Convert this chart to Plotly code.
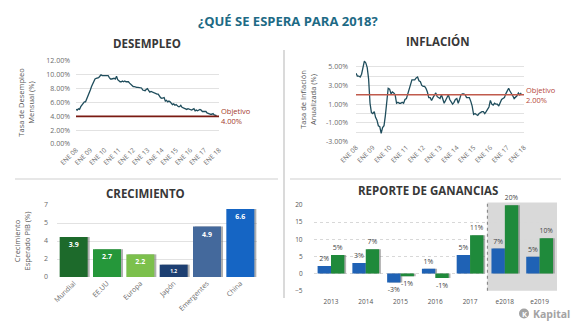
import plotly.graph_objects as go
import pandas as pd

W, H = 576, 324

# ---- Desempleo: tasa mensual (%), ene-2008 .. nov-2017
desempleo = [
    5.0, 4.9, 5.1, 5.0, 5.4, 5.6, 5.8, 6.1, 6.1, 6.5, 6.8, 7.3,
    7.8, 8.3, 8.7, 9.0, 9.4, 9.5, 9.5, 9.6, 9.8, 10.0, 9.9, 9.9,
    9.8, 9.8, 9.9, 9.9, 9.6, 9.4, 9.4, 9.5, 9.5, 9.4, 9.8, 9.3,
    9.1, 9.0, 9.0, 9.1, 9.0, 9.1, 9.0, 9.0, 9.0, 8.8, 8.6, 8.5,
    8.3, 8.3, 8.2, 8.2, 8.2, 8.2, 8.2, 8.1, 7.8, 7.8, 7.7, 7.9,
    8.0, 7.7, 7.5, 7.6, 7.5, 7.5, 7.3, 7.2, 7.2, 7.2, 6.9, 6.7,
    6.6, 6.7, 6.7, 6.2, 6.3, 6.1, 6.2, 6.1, 5.9, 5.7, 5.8, 5.6,
    5.7, 5.5, 5.4, 5.4, 5.6, 5.3, 5.2, 5.1, 5.0, 5.0, 5.1, 5.0,
    4.9, 4.9, 5.0, 5.1, 4.8, 4.9, 4.8, 4.9, 5.0, 4.9, 4.7, 4.7,
    4.7, 4.7, 4.5, 4.4, 4.4, 4.3, 4.3, 4.4, 4.2, 4.1, 4.1,
]

# ---- Inflación anualizada (%), ene-2008 .. nov-2017
inflacion = [
    4.3, 4.0, 4.0, 3.9, 4.2, 5.0, 5.6, 5.4, 4.9, 3.7, 1.1, 0.1,
    0.0, 0.2, -0.4, -0.7, -1.3, -1.4, -2.1, -1.5, -1.3, -0.2, 1.8, 2.7,
    2.6, 2.1, 2.3, 2.2, 2.0, 1.1, 1.2, 1.1, 1.1, 1.2, 1.1, 1.5,
    1.6, 2.1, 2.7, 3.2, 3.6, 3.6, 3.6, 3.8, 3.9, 3.5, 3.4, 3.0,
    2.9, 2.9, 2.7, 2.3, 1.7, 1.7, 1.4, 1.7, 2.0, 2.2, 1.8, 1.7,
    1.6, 2.0, 1.5, 1.1, 1.4, 1.8, 2.0, 1.5, 1.2, 1.0, 1.2, 1.5,
    1.6, 1.1, 1.5, 2.0, 2.1, 2.1, 2.0, 1.7, 1.7, 1.7, 1.3, 0.8,
    -0.1, 0.0, -0.1, -0.2, 0.0, 0.1, 0.2, 0.2, 0.0, 0.2, 0.5, 0.7,
    1.4, 1.0, 0.9, 1.1, 1.0, 1.0, 0.8, 1.1, 1.5, 1.6, 1.7, 2.1,
    2.5, 2.7, 2.4, 2.2, 1.9, 1.6, 1.7, 1.9, 2.2, 2.0, 2.2,
]

meses = pd.date_range("2008-01-01", periods=len(desempleo), freq="MS")
anios = pd.date_range("2008-01-01", "2018-01-01", freq="YS")
etiquetas_anios = ["ENE %02d" % (d.year % 100) for d in anios]

objetivo_desempleo = 4.0
objetivo_inflacion = 2.0

# ---- Crecimiento esperado del PIB (%)
regiones = ["Mundial", "EE.UU", "Europa", "Japón", "Emergentes", "China"]
crecimiento = [3.9, 2.7, 2.2, 1.2, 4.9, 6.6]
colores_regiones = ["#1d6a2b", "#25973a", "#7cc04c", "#1d3f72", "#44699c", "#1565c4"]
crec_ticks = [0, 1.75, 3.5, 5.25, 7]
crec_ticktext = ["0", "2", "4", "5", "7"]

# ---- Reporte de ganancias (%)
periodos = ["2013", "2014", "2015", "2016", "2017", "e2018", "e2019"]
ganancias_azul = [2.2, 3.1, -2.6, 1.4, 5.4, 7.3, 4.9]
ganancias_verde = [5.4, 7.1, -0.8, -1.3, 11.2, 19.9, 10.3]

FONT = "Open Sans"
GRIS = "#6b6b6b"
LINEA = "#1f4d5c"
SOMBRA = "rgba(110,110,110,0.55)"


def px_x(v):
    return v / W


def px_y(v):
    return 1 - v / H


fig = go.Figure()

fig.add_trace(go.Scatter(
    x=meses, y=desempleo, mode="lines", line=dict(color=LINEA, width=1.3),
    xaxis="x", yaxis="y", showlegend=False))
fig.add_trace(go.Scatter(
    x=[anios[0], anios[-1]], y=[objetivo_desempleo] * 2, mode="lines",
    line=dict(color="#7a1a12", width=1.6), xaxis="x", yaxis="y", showlegend=False))

fig.add_trace(go.Scatter(
    x=meses, y=inflacion, mode="lines", line=dict(color=LINEA, width=1.3),
    xaxis="x2", yaxis="y2", showlegend=False))
fig.add_trace(go.Scatter(
    x=[anios[0], anios[-1]], y=[objetivo_inflacion] * 2, mode="lines",
    line=dict(color="#c05a4c", width=1.6), xaxis="x2", yaxis="y2", showlegend=False))

# crecimiento: sombra desplazada detrás de cada barra
fig.add_trace(go.Bar(
    x=regiones, y=crecimiento, marker=dict(color=SOMBRA, line=dict(width=0)),
    width=0.84, offset=-0.36, hoverinfo="skip",
    xaxis="x3", yaxis="y3", showlegend=False))
fig.add_trace(go.Bar(
    x=regiones, y=crecimiento, marker=dict(color=colores_regiones,
                                           line=dict(width=0)),
    width=0.84, offset=-0.42, text=["%.1f" % v for v in crecimiento],
    textposition="inside", insidetextanchor="end", textangle=0,
    textfont=dict(family=FONT, size=7, color="white", weight="bold"),
    xaxis="x3", yaxis="y3", showlegend=False))

# ganancias: dos barras por periodo, cada una con su sombra
ANCHO = 0.385
for valores, desplaz, color in ((ganancias_azul, -ANCHO, "#1f62b5"),
                                (ganancias_verde, 0.0, "#1f8a3b")):
    fig.add_trace(go.Bar(
        x=periodos, y=valores, marker=dict(color=SOMBRA, line=dict(width=0)),
        width=ANCHO, offset=desplaz + 0.05, hoverinfo="skip",
        xaxis="x4", yaxis="y4", showlegend=False))
for valores, desplaz, color in ((ganancias_azul, -ANCHO, "#1f62b5"),
                                (ganancias_verde, 0.0, "#1f8a3b")):
    fig.add_trace(go.Bar(
        x=periodos, y=valores, marker=dict(color=color, line=dict(width=0)),
        width=ANCHO, offset=desplaz,
        texttemplate="%{y:.0f}%", textposition="outside", cliponaxis=False,
        textfont=dict(family=FONT, size=7, color="#444"),
        xaxis="x4", yaxis="y4", showlegend=False))

tick_font = dict(family=FONT, size=7, color=GRIS)
title_font = dict(family=FONT, size=7.5, color="#555")

fig.update_layout(
    width=W, height=H, margin=dict(l=0, r=0, t=0, b=0),
    paper_bgcolor="white", plot_bgcolor="rgba(0,0,0,0)",
    barmode="group", bargap=0.23, bargroupgap=0,
    font=dict(family=FONT),
    xaxis=dict(domain=[px_x(76), px_x(219)], type="date",
               range=[anios[0], anios[-1]], tickvals=anios, ticktext=etiquetas_anios,
               tickangle=-45, tickfont=dict(family=FONT, size=6.5, color=GRIS),
               showgrid=False, zeroline=False, showline=False, anchor="y"),
    yaxis=dict(domain=[px_y(144), px_y(61)], range=[0, 12], dtick=2,
               tickformat=".2f", ticksuffix="%", tickfont=tick_font,
               gridcolor="#e2e2e2", gridwidth=1, zeroline=False, anchor="x",
               ticklabelstandoff=5,
               title=dict(text="Tasa de Desempleo<br>Mensual (%)", font=title_font,
                          standoff=10)),
    xaxis2=dict(domain=[px_x(356), px_x(524)], type="date",
                range=[anios[0], anios[-1]], tickvals=anios, ticktext=etiquetas_anios,
                tickangle=-45, tickfont=dict(family=FONT, size=6.5, color=GRIS),
                showgrid=False, zeroline=False, showline=False, anchor="y2"),
    yaxis2=dict(domain=[px_y(141.7), px_y(57.3)], range=[-3, 6],
                tickvals=list(range(-3, 7)),
                ticktext=["%.2f%%" % v if v % 2 else "" for v in range(-3, 7)],
                tickfont=tick_font, gridcolor="#e2e2e2", gridwidth=1,
                zeroline=False, anchor="x2", ticklabelstandoff=7,
                title=dict(text="Tasa de Inflación<br>Anualizada (%)", font=title_font,
                           standoff=8)),
    xaxis3=dict(domain=[px_x(57), px_x(257)], type="category", tickangle=-45,
                range=[-0.5, 5.5], tickfont=dict(family=FONT, size=7, color=GRIS),
                showgrid=False, zeroline=False, showline=False, anchor="y3"),
    yaxis3=dict(domain=[px_y(277), px_y(205)], range=[0, 7], tickvals=crec_ticks,
                ticktext=crec_ticktext, tickfont=tick_font, gridcolor="#e2e2e2",
                zeroline=False, anchor="x3", ticklabelstandoff=8,
                title=dict(text="Crecimiento<br>Esperado PIB (%)", font=title_font,
                           standoff=12)),
    xaxis4=dict(domain=[px_x(313.6), px_x(557)], type="category",
                range=[-0.5, 6.5], tickfont=dict(family=FONT, size=6.5, color="#555"),
                showgrid=False, zeroline=False, showline=False, anchor="y4",
                ticklabelstandoff=6),
    yaxis4=dict(domain=[px_y(290.7), px_y(205)], range=[-5, 20], dtick=5,
                tickfont=dict(family=FONT, size=6.5, color="#555"),
                gridcolor="#d8d8d8", griddash="dot", zeroline=False, anchor="x4",
                ticklabelstandoff=10),
)
# keep every plot area exactly where its domain puts it
for ax in ("xaxis", "yaxis", "xaxis2", "yaxis2", "xaxis3", "yaxis3", "xaxis4", "yaxis4"):
    fig.layout[ax].automargin = False

shapes = [
    # separadores entre paneles
    dict(type="line", xref="paper", yref="paper", x0=px_x(284), x1=px_x(284),
         y0=px_y(50), y1=px_y(298), line=dict(color="#b5b5b5", width=1)),
    dict(type="line", xref="paper", yref="paper", x0=px_x(15), x1=px_x(278),
         y0=px_y(179), y1=px_y(179), line=dict(color="#cfcfcf", width=1)),
    dict(type="line", xref="paper", yref="paper", x0=px_x(290), x1=px_x(561),
         y0=px_y(179), y1=px_y(179), line=dict(color="#cfcfcf", width=1)),
    # zona de estimaciones
    dict(type="rect", xref="x4", yref="y4 domain", x0=4.5, x1=6.5, y0=0, y1=1.03,
         fillcolor="#d9d9d9", line=dict(width=0), layer="below"),
    dict(type="line", xref="x4", yref="y4 domain", x0=4.5, x1=4.5, y0=0, y1=1.03,
         line=dict(color="#8a8a8a", width=1.2, dash="dot"), layer="below"),
    # icono del logotipo
    dict(type="circle", xref="paper", yref="paper",
         x0=px_x(519), x1=px_x(529), y0=px_y(318.5), y1=px_y(308.5),
         fillcolor="#a3a3a3", line=dict(width=0)),
]
fig.update_layout(shapes=shapes)

annotations = [
    dict(text="<b>¿QUÉ SE ESPERA PARA 2018?</b>", x=0.5, y=px_y(21),
         font=dict(family=FONT, size=13, color="#1d6a85")),
    dict(text="<b>DESEMPLEO</b>", x=px_x(147), y=px_y(44),
         font=dict(family=FONT, size=11.5, color="#383838")),
    dict(text="<b>INFLACIÓN</b>", x=px_x(438), y=px_y(41),
         font=dict(family=FONT, size=11.5, color="#383838")),
    dict(text="<b>CRECIMIENTO</b>", x=px_x(145), y=px_y(193),
         font=dict(family=FONT, size=11.5, color="#383838")),
    dict(text="<b>REPORTE DE GANANCIAS</b>", x=px_x(428), y=px_y(191),
         font=dict(family=FONT, size=11.5, color="#383838")),
    dict(text="Objetivo<br>%.2f%%" % objetivo_desempleo, x=px_x(219), y=px_y(116),
         xanchor="left", align="left",
         font=dict(family=FONT, size=7.5, color="#a33a2c")),
    dict(text="Objetivo<br>%.2f%%" % objetivo_inflacion, x=px_x(524), y=px_y(95),
         xanchor="left", align="left",
         font=dict(family=FONT, size=7.5, color="#b5473a")),
    dict(text="<b>K</b>", x=px_x(524), y=px_y(313.5),
         font=dict(family=FONT, size=7.5, color="white")),
    dict(text="<b>Kapital</b>", x=px_x(531), y=px_y(313.5), xanchor="left",
         font=dict(family=FONT, size=10.5, color="#a3a3a3")),
]
for a in annotations:
    a.setdefault("xref", "paper")
    a.setdefault("yref", "paper")
    a.setdefault("showarrow", False)
    a.setdefault("xanchor", "center")
    a.setdefault("yanchor", "middle")
fig.update_layout(annotations=annotations)

fig.write_html("out.html")
